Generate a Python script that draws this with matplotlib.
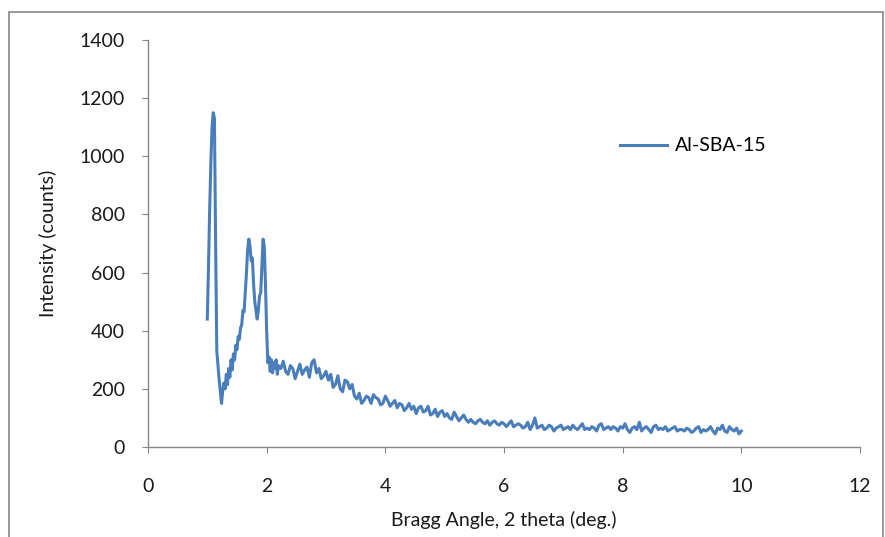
import numpy as np
import matplotlib
matplotlib.use("Agg")
from matplotlib import pyplot as plt
from matplotlib.patches import Rectangle

# peak region, 2 theta 1.00 .. 2.20 step 0.02
x_peak = np.round(np.arange(1.00, 2.2001, 0.02), 2)
y_peak = [440, 620, 820, 980, 1100, 1150, 1130, 700, 330, 280,
          230, 190, 150, 195, 220, 200, 250, 215, 270, 240,
          300, 265, 320, 300, 350, 335, 380, 370, 410, 420,
          470, 465, 530, 600, 680, 715, 690, 640, 650, 560,
          500, 470, 440, 470, 520, 530, 620, 715, 690, 560,
          400, 290, 310, 260, 300, 255, 290, 270, 300, 250,
          280]

# tail, 2 theta 2.24 .. 10.00 step 0.04
x_tail = np.round(np.arange(2.24, 10.0001, 0.04), 2)
y_tail = [270, 295, 260, 250, 280, 270, 235, 260, 285, 250,
          265, 275, 240, 290, 300, 255, 270, 235, 245, 260,
          230, 250, 205, 215, 245, 200, 190, 230, 225, 200,
          215, 175, 165, 185, 150, 160, 175, 170, 150, 180,
          170, 165, 145, 150, 175, 160, 140, 150, 160, 135,
          150, 145, 125, 135, 150, 130, 140, 115, 135, 140,
          120, 125, 140, 110, 115, 130, 105, 120, 125, 105,
          115, 100, 95, 120, 105, 90, 100, 110, 95, 85,
          95, 85, 80, 90, 95, 85, 80, 90, 75, 85,
          90, 80, 75, 85, 80, 70, 80, 90, 70, 75,
          80, 75, 65, 70, 85, 60, 75, 100, 65, 70,
          75, 60, 65, 75, 70, 55, 65, 70, 75, 60,
          65, 70, 60, 75, 65, 60, 70, 80, 60, 65,
          60, 70, 65, 55, 75, 80, 60, 65, 70, 60,
          70, 65, 55, 70, 65, 80, 60, 50, 65, 70,
          60, 85, 55, 65, 70, 60, 50, 70, 75, 60,
          65, 60, 70, 55, 60, 65, 70, 55, 60, 60,
          55, 65, 60, 50, 55, 65, 70, 50, 60, 55,
          60, 70, 55, 45, 65, 60, 75, 55, 50, 70,
          60, 55, 65, 45, 55]

x = np.concatenate([x_peak, x_tail])
y = np.concatenate([y_peak, y_tail])

plt.rcParams['font.family'] = ['Lato', 'DejaVu Sans']
grey = '#868686'

fig = plt.figure(figsize=(8.85, 5.37), dpi=100)
ax = fig.add_axes([0.1672, 0.1676, 0.8046, 0.7579])

ax.plot(x, y, color='#4a7ebb', linewidth=2.2, label='Al-SBA-15')

ax.set_xlim(0, 12)
ax.set_ylim(0, 1400)
ax.set_xticks(range(0, 13, 2))
ax.set_yticks(range(0, 1401, 200))

for s in ['top', 'right']:
    ax.spines[s].set_visible(False)
for s in ['left', 'bottom']:
    ax.spines[s].set_color(grey)
    ax.spines[s].set_linewidth(1.0)
ax.tick_params(axis='both', direction='out', length=4.5, color=grey,
               labelsize=14, labelcolor='#1a1a1a')
ax.tick_params(axis='y', pad=12)
ax.tick_params(axis='x', pad=18)

ax.set_xlabel('Bragg Angle, 2 theta (deg.)', fontsize=14, color='#1a1a1a', labelpad=11)
ax.set_ylabel('Intensity (counts)', fontsize=14, color='#1a1a1a', labelpad=16)

ax.legend(loc='center left', bbox_to_anchor=(0.663, 0.7396), frameon=False,
          fontsize=14, handlelength=2.4, handletextpad=0.4, borderpad=0,
          borderaxespad=0)

# outer chart border
fig.patches.append(Rectangle((9 / 885, -0.01), 874 / 885, 0.9777 + 0.01,
                             transform=fig.transFigure, fill=False,
                             edgecolor=grey, linewidth=1.2))

fig.savefig('out.png', dpi=100)
